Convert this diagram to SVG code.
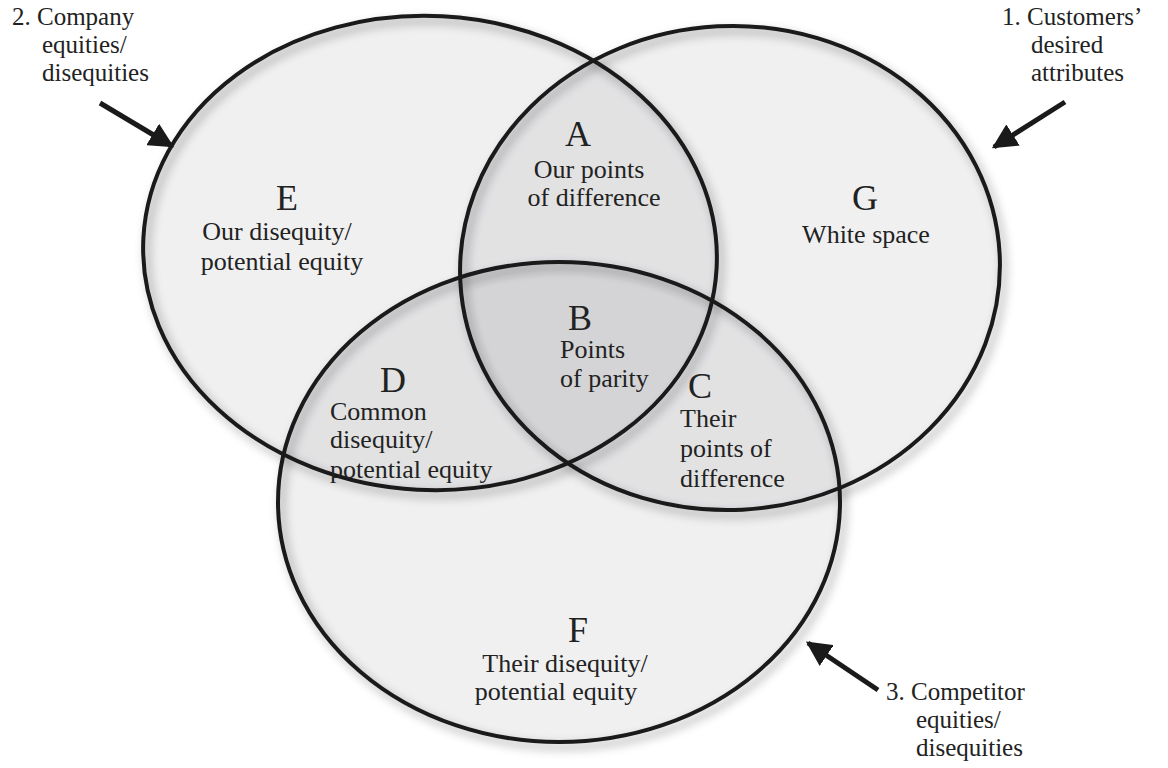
<svg xmlns="http://www.w3.org/2000/svg" width="1168" height="768" viewBox="0 0 1168 768">
  <style>
    .fill { fill: #1e2332; fill-opacity: 0.065; stroke: none; }
    .ring { fill: none; stroke: #1a1a1a; stroke-width: 4; }
    .shadow { fill: none; stroke: #000; stroke-opacity: 0.25; stroke-width: 6; }
    .t { font-family: "Liberation Serif", "Times New Roman", serif; font-size: 26px; fill: #222222; }
    .o { font-family: "Liberation Serif", "Times New Roman", serif; font-size: 25px; fill: #222222; }
    .big { font-family: "Liberation Serif", "Times New Roman", serif; font-size: 36px; fill: #222222; }
    .mid { text-anchor: middle; }
    .arrow { stroke: #1a1a1a; stroke-width: 5; fill: none; marker-end: url(#ah); }
  </style>
  <defs>
    <filter id="blur" x="-20%" y="-20%" width="140%" height="140%">
      <feGaussianBlur stdDeviation="5"/>
    </filter>
    <marker id="ah" viewBox="0 0 10 10" refX="9" refY="5" markerWidth="5" markerHeight="5" orient="auto" markerUnits="strokeWidth">
      <path d="M0,0 L10,5 L0,10 Z" fill="#1a1a1a"/>
    </marker>
  </defs>
  <rect width="1168" height="768" fill="#ffffff"/>

  <g id="shadows" filter="url(#blur)">
    <ellipse class="shadow" cx="434" cy="258" rx="287" ry="237" transform="rotate(3 434 258)"/>
    <ellipse class="shadow" cx="734" cy="273" rx="270" ry="242" transform="rotate(-3 734 273)"/>
    <ellipse class="shadow" cx="563" cy="507" rx="281" ry="240"/>
  </g>

  <g id="fills">
    <ellipse class="fill" cx="430" cy="253" rx="287" ry="237" transform="rotate(3 430 253)"/>
    <ellipse class="fill" cx="730" cy="268" rx="270" ry="242" transform="rotate(-3 730 268)"/>
    <ellipse class="fill" cx="559" cy="502" rx="281" ry="240"/>
  </g>

  <g id="company">
    <ellipse class="ring" cx="430" cy="253" rx="287" ry="237" transform="rotate(3 430 253)"/>
  </g>
  <g id="customers">
    <ellipse class="ring" cx="730" cy="268" rx="270" ry="242" transform="rotate(-3 730 268)"/>
  </g>
  <g id="competitor">
    <ellipse class="ring" cx="559" cy="502" rx="281" ry="240"/>
  </g>

  <g id="region-A">
    <text class="big mid" x="578" y="146">A</text>
    <text class="t mid" x="589" y="178">Our points</text>
    <text class="t mid" x="594" y="206">of difference</text>
  </g>
  <g id="region-B">
    <text class="big mid" x="580" y="330">B</text>
    <text class="t" x="560" y="358">Points</text>
    <text class="t" x="560" y="387">of parity</text>
  </g>
  <g id="region-C">
    <text class="big mid" x="700" y="398">C</text>
    <text class="t" x="680" y="427">Their</text>
    <text class="t" x="680" y="457">points of</text>
    <text class="t" x="680" y="487">difference</text>
  </g>
  <g id="region-D">
    <text class="big mid" x="393" y="392">D</text>
    <text class="t" x="330" y="420">Common</text>
    <text class="t" x="330" y="448">disequity/</text>
    <text class="t" x="330" y="478">potential equity</text>
  </g>
  <g id="region-E">
    <text class="big mid" x="287" y="210">E</text>
    <text class="t mid" x="277" y="240">Our disequity/</text>
    <text class="t mid" x="282" y="270">potential equity</text>
  </g>
  <g id="region-F">
    <text class="big mid" x="578" y="642">F</text>
    <text class="t mid" x="565" y="672">Their disequity/</text>
    <text class="t mid" x="556" y="700">potential equity</text>
  </g>
  <g id="region-G">
    <text class="big mid" x="865" y="210">G</text>
    <text class="t mid" x="866" y="243">White space</text>
  </g>

  <g id="label-2">
    <text class="o" x="12" y="25">2. Company</text>
    <text class="o" x="42" y="53">equities/</text>
    <text class="o" x="42" y="81">disequities</text>
  </g>
  <g id="label-1">
    <text class="o" x="1002" y="25">1. Customers’</text>
    <text class="o" x="1031" y="53">desired</text>
    <text class="o" x="1031" y="81">attributes</text>
  </g>
  <g id="label-3">
    <text class="o" x="886" y="700">3. Competitor</text>
    <text class="o" x="916" y="728">equities/</text>
    <text class="o" x="916" y="756">disequities</text>
  </g>

  <g id="connectors">
    <line class="arrow" x1="100" y1="103" x2="172" y2="146"/>
    <line class="arrow" x1="1065" y1="102" x2="994" y2="147"/>
    <line class="arrow" x1="878" y1="690" x2="808" y2="643"/>
  </g>
</svg>
